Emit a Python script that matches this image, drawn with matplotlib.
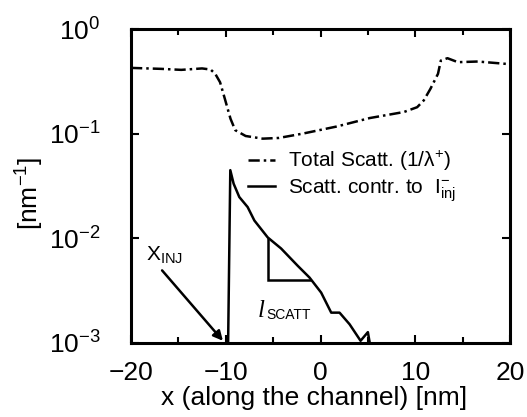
import math
import matplotlib
matplotlib.use("Agg")
import matplotlib.pyplot as plt
from matplotlib.ticker import FixedLocator, FuncFormatter, MultipleLocator, NullLocator

plt.rcParams['font.family'] = ['Liberation Sans', 'DejaVu Sans']
plt.rcParams['mathtext.fontset'] = 'custom'
plt.rcParams['mathtext.rm'] = 'Liberation Sans'
plt.rcParams['mathtext.it'] = 'Liberation Sans:italic'
plt.rcParams['mathtext.bf'] = 'Liberation Sans:bold'
plt.rcParams['mathtext.sf'] = 'Liberation Sans'

# --- data ---
total_x = [-20, -16.8, -14.7, -12.5, -11.6, -11.1, -10.6, -10.1, -9.5, -9.0,
           -7.9, -6.1, -4.4, -1.9, 1.7, 5.2, 8.8, 10.2, 10.9, 11.6, 12.4,
           12.7, 13.4, 14.5, 16.6, 20]
total_y = [0.425, 0.416, 0.407, 0.42, 0.41, 0.372, 0.31, 0.216, 0.139, 0.108,
           0.095, 0.0896, 0.091, 0.100, 0.117, 0.141, 0.161, 0.179, 0.208, 0.268,
           0.373, 0.499, 0.526, 0.482, 0.489, 0.461]

contr_x = [-9.75, -9.52, -9.17, -8.57, -7.69, -6.98, -5.57, -4.16, -2.4, -1.16,
           0.07, 1.13, 2.01, 3.07, 4.23, 5.0, 5.2]
contr_y = [0.001, 0.0448, 0.0333, 0.0248, 0.0199, 0.0148, 0.0102, 0.0080,
           0.00546, 0.00422, 0.00303, 0.00195, 0.00195, 0.00151, 0.00105,
           0.00127, 0.001]

# slope triangle (l_SCATT)
tri_x = [-5.57, -5.57, -1.06]
tri_y = [0.00986, 0.00401, 0.00401]

# X_INJ arrow
arrow_start = (-16.72, 0.00494)
arrow_end = (-10.3, 0.00105)

xticks = [-20, -10, 0, 10, 20]
ydecades = [-3, -2, -1, 0]

fig = plt.figure(figsize=(5.27, 4.17), dpi=100)
ax = fig.add_axes([131/527, 1-343/417, (510-131)/527, (343-29)/417])

ax.plot(total_x, total_y, color='black', lw=1.8, dashes=(4.5, 1.6, 1.0, 1.6),
        label='Total Scatt. (1/\u03bb$^{+}$)')
ax.plot(contr_x, contr_y, color='black', lw=1.8,
        label=r'Scatt. contr. to  $\mathrm{I}^{-}_{\mathrm{inj}}$')

ax.plot(tri_x, tri_y, color='black', lw=1.8, solid_joinstyle='miter')

ax.annotate('', xy=arrow_end, xytext=arrow_start,
            arrowprops=dict(arrowstyle='-|>', color='black', lw=1.8,
                            mutation_scale=14, shrinkA=0, shrinkB=0))

ax.text(-18.45, 10**-2.21, r'$\mathrm{X}_{\mathrm{INJ}}$', fontsize=15,
        ha='left', va='baseline')
ax.text(-6.6, 0.001775, 'l', fontsize=18, family='Liberation Serif',
        style='italic', ha='left', va='baseline')
ax.text(-5.75, 0.0017, 'SCATT', fontsize=10, ha='left', va='baseline')

ax.set_yscale('log')
ax.set_xlim(-20, 20)
ax.set_ylim(1e-3, 1)
ax.xaxis.set_major_locator(FixedLocator(xticks))
ax.xaxis.set_minor_locator(MultipleLocator(5))
ax.yaxis.set_major_locator(FixedLocator([10.0**e for e in ydecades]))
ax.yaxis.set_minor_locator(NullLocator())
ax.xaxis.set_major_formatter(FuncFormatter(lambda v, p: f'{v:.0f}'.replace('-', '\u2212')))
ax.yaxis.set_major_formatter(FuncFormatter(
    lambda v, p: r'$\mathrm{10^{%d}}$' % round(math.log10(v))))

ax.tick_params(which='both', direction='in', top=True, right=True, width=1.5,
               labelsize=19)
ax.tick_params(which='major', length=5.5)
ax.tick_params(which='minor', length=4)
ax.tick_params(axis='x', pad=13)
ax.tick_params(axis='y', pad=22)
for s in ax.spines.values():
    s.set_linewidth(2.2)

leg = ax.legend(loc='center left', bbox_to_anchor=(0.309, 0.53), frameon=False,
                fontsize=15, handlelength=1.3, handletextpad=0.6, borderpad=0,
                borderaxespad=0, labelspacing=0.2)

fig.text(30/527, 1-193/417, r'[nm$^{-1}$]', rotation=90, fontsize=19,
         ha='center', va='center')
fig.text(314/527, 1-405/417, 'x (along the channel) [nm]', fontsize=19,
         ha='center', va='baseline')

fig.savefig('out.png', dpi=100)
